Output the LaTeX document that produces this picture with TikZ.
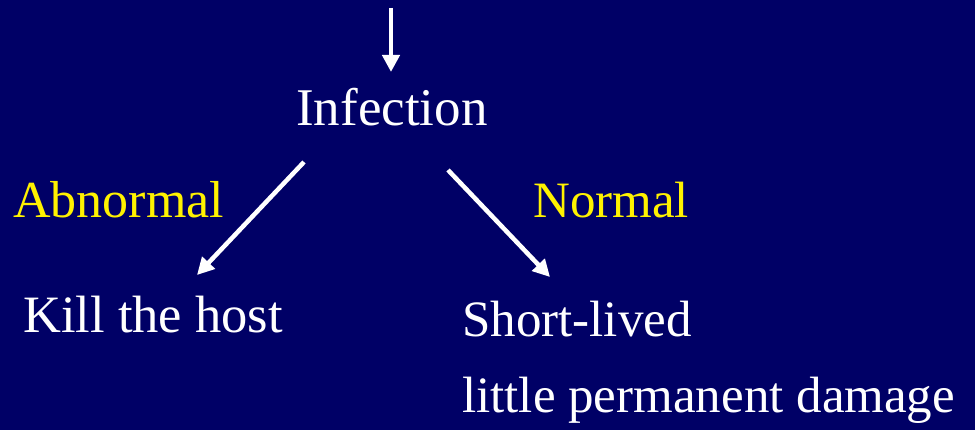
\documentclass[tikz,border=0pt]{standalone}
\usepackage{fontspec}
\setmainfont{Liberation Serif}
\usetikzlibrary{arrows.meta}
\definecolor{slide}{RGB}{0,0,102}
\tikzset{
  txt/.style={font=\fontsize{51}{61}\selectfont, text=white, anchor=base west, inner sep=0pt},
  lbl/.style={txt, text=yellow},
  arrow/.style={draw=white, line width=4.5pt, -{Triangle[length=17pt, width=17pt]}}
}
\begin{document}
\begin{tikzpicture}[x=1pt, y=-1pt]
  \fill[slide] (0,0) rectangle (975,430);
  \useasboundingbox (0,0) rectangle (975,430);
  \node[txt, font=\fontsize{53}{64}\selectfont] (infection) at (296,126) {Infection};
  \node[lbl, font=\fontsize{52}{62}\selectfont] (abnormal) at (13,218) {Abnormal};
  \node[lbl] (normal) at (533,218) {Normal};
  \node[txt, font=\fontsize{52.5}{63}\selectfont] (kill) at (23,333) {Kill the host};
  \node[txt] (shortlived) at (462,337) {Short-lived};
  \node[txt] (damage) at (462,413) {little permanent damage};
  \coordinate (feed) at (391,8);
  \coordinate (feedend) at (391,72);
  \coordinate (killfrom) at (304,162);
  \coordinate (killto) at (197,275);
  \coordinate (shortfrom) at (448,170);
  \coordinate (shortto) at (550,277);
  \draw[arrow] (feed) -- (feedend);
  \draw[arrow] (killfrom) -- (killto);
  \draw[arrow] (shortfrom) -- (shortto);
\end{tikzpicture}
\end{document}
